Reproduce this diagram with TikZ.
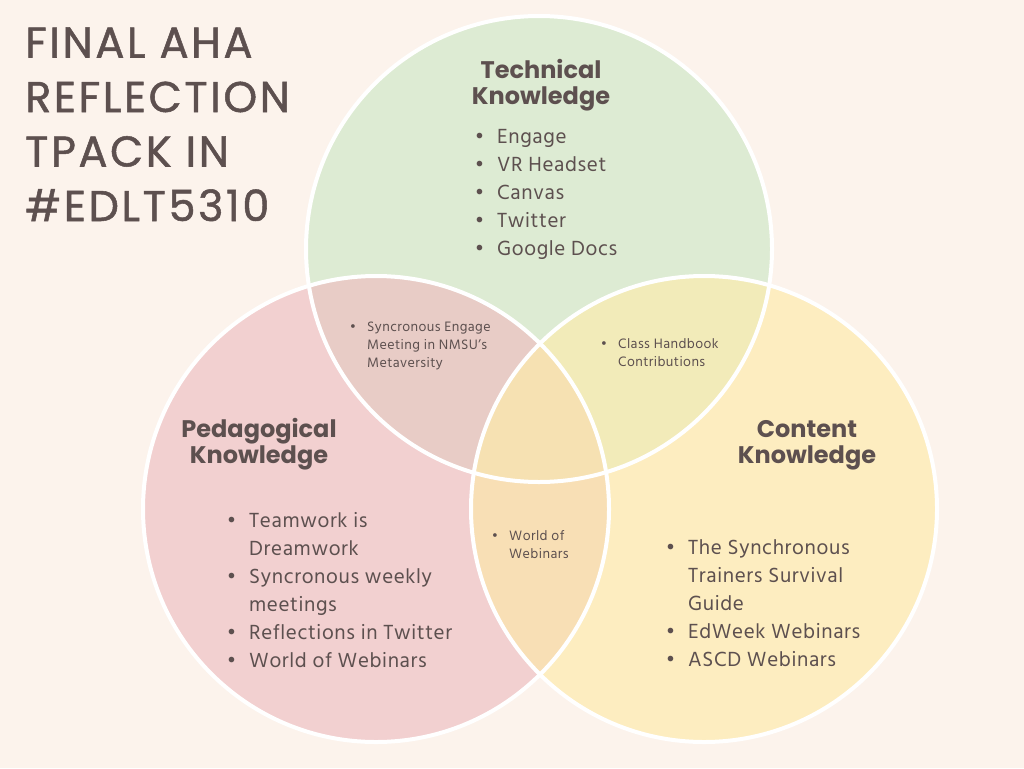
\documentclass[tikz,border=0pt]{standalone}
\usepackage{fontspec}
\setmainfont{Hind Madurai}[LetterSpace=3]
\newfontfamily\titlefont{Poppins}[LetterSpace=6, FakeBold=1.2]
\newfontfamily\headfont{Poppins}

\definecolor{bgcol}{HTML}{FCF3EC}
\definecolor{ink}{HTML}{5D504F}
\definecolor{tkfill}{HTML}{DDEBD3}
\definecolor{pkfill}{HTML}{F2D0D0}
\definecolor{ckfill}{HTML}{FDEDC0}
\definecolor{tpfill}{HTML}{E8CCC6}
\definecolor{tcfill}{HTML}{F2EBB9}
\definecolor{pcfill}{HTML}{F8DFB5}
\definecolor{allfill}{HTML}{F6E1B2}

\newcommand{\itm}{\llap{\textbullet\hspace{13pt}}}
\newcommand{\sitm}{\llap{\textbullet\hspace{11pt}}}

\tikzset{
	heading/.style={font=\headfont\bfseries\fontsize{24}{26}\selectfont, align=center, text=ink, inner sep=0pt, anchor=base},
	biglist/.style={font=\fontsize{21}{28}\selectfont, align=left, text=ink, inner sep=0pt, anchor=base west},
	smalllist/.style={font=\fontsize{14}{18}\selectfont, align=left, text=ink, inner sep=0pt, anchor=base west},
	ring/.style={draw=white, line width=4pt}
}

\begin{document}
\begin{tikzpicture}[x=1pt,y=-1pt]
	\useasboundingbox (0,0) rectangle (1024,768);
	\fill[bgcol] (0,0) rectangle (1024,768);

	\coordinate (tk) at (539,249);
	\coordinate (pk) at (376,509);
	\coordinate (ck) at (704,509);

	% the three circles
	\fill[tkfill] (tk) circle[radius=233];
	\fill[pkfill] (pk) circle[radius=233];
	\fill[ckfill] (ck) circle[radius=233];

	% overlaps
	\begin{scope}
		\clip (pk) circle[radius=233];
		\fill[pcfill] (ck) circle[radius=233];
	\end{scope}
	\begin{scope}
		\clip (tk) circle[radius=233];
		\fill[tpfill] (pk) circle[radius=233];
		\fill[tcfill] (ck) circle[radius=233];
		\clip (pk) circle[radius=233];
		\fill[allfill] (ck) circle[radius=233];
	\end{scope}

	\draw[ring] (tk) circle[radius=233];
	\draw[ring] (pk) circle[radius=233];
	\draw[ring] (ck) circle[radius=233];

	% title (base = last line)
	\node[font=\titlefont\fontsize{43}{54.5}\selectfont, align=left, text=ink, inner sep=0pt, anchor=base west] (title) at (25,221)
		{FINAL AHA\\REFLECTION\\TPACK IN\\\#EDLT5310};

	% headings
	\node[heading] (tkhead) at (541,104) {Technical\\Knowledge};
	\node[heading] (pkhead) at (259,463) {Pedagogical\\Knowledge};
	\node[heading] (ckhead) at (807,463) {Content\\Knowledge};

	% lists
	\node[biglist] (tklist) at (497,255)
		{\itm Engage\\\itm VR Headset\\\itm Canvas\\\itm Twitter\\\itm Google Docs};
	\node[biglist] (pklist) at (249,667)
		{\itm Teamwork is\\Dreamwork\\\itm Syncronous weekly\\meetings\\\itm Reflections in Twitter\\\itm World of Webinars};
	\node[biglist] (cklist) at (688,666)
		{\itm The Synchronous\\Trainers Survival\\Guide\\\itm EdWeek Webinars\\\itm ASCD Webinars};

	\node[smalllist] (tplist) at (367,367)
		{\sitm Syncronous Engage\\Meeting in NMSU's\\Metaversity};
	\node[smalllist] (tclist) at (618,366)
		{\sitm Class Handbook\\Contributions};
	\node[smalllist] (pclist) at (509,558)
		{\sitm World of\\Webinars};
\end{tikzpicture}
\end{document}
